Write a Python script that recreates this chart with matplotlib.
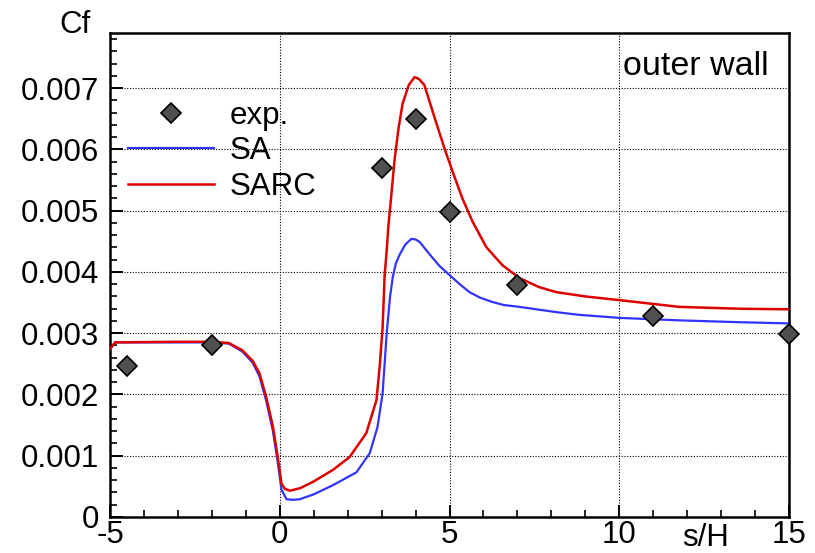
import matplotlib
matplotlib.use("Agg")
import matplotlib.pyplot as plt
from matplotlib.ticker import MultipleLocator, FixedLocator

plt.rcParams['font.family'] = ['Liberation Sans', 'DejaVu Sans']

# experimental data
exp_s = [-4.5, -2.0, 3.0, 4.0, 5.0, 7.0, 11.0, 15.0]
exp_cf = [0.00247, 0.00280, 0.00569, 0.00649, 0.00498, 0.00378, 0.00328, 0.00299]

# SA model
sa_s = [-5.0, -4.85, -3.0, -2.0, -1.5, -1.1, -0.8, -0.6, -0.4, -0.2, -0.06, 0.05, 0.2, 0.4,
        0.59, 1.0, 1.57, 2.26, 2.65, 2.88, 3.03, 3.15, 3.25, 3.33, 3.42, 3.53, 3.7, 3.88, 4.0,
        4.12, 4.41, 4.7, 5.0, 5.3, 5.59, 5.9, 6.26, 6.6, 7.06, 7.56, 8.2, 8.82, 10.0, 11.76, 13.5, 15.0]
sa_cf = [2.74, 2.85, 2.85, 2.85, 2.83, 2.70, 2.52, 2.30, 1.90, 1.40, 0.90, 0.45, 0.29, 0.28,
         0.29, 0.37, 0.52, 0.73, 1.04, 1.47, 2.02, 3.00, 3.60, 3.92, 4.14, 4.28, 4.45, 4.54, 4.53,
         4.49, 4.29, 4.10, 3.95, 3.80, 3.67, 3.58, 3.51, 3.46, 3.43, 3.39, 3.34, 3.30, 3.25, 3.21, 3.18, 3.16]

# SARC model
sarc_s = [-5.0, -4.85, -3.0, -2.0, -1.5, -1.1, -0.8, -0.6, -0.4, -0.2, -0.06, 0.05, 0.15, 0.3,
          0.6, 1.0, 1.57, 2.06, 2.55, 2.85, 2.95, 3.03, 3.09, 3.15, 3.2, 3.26, 3.38, 3.5, 3.62, 3.8,
          3.97, 4.1, 4.26, 4.6, 4.85, 5.09, 5.38, 5.68, 6.09, 6.56, 7.06, 7.65, 8.15, 9.0, 10.0,
          11.76, 13.5, 15.0]
sarc_cf = [2.74, 2.85, 2.86, 2.86, 2.84, 2.72, 2.55, 2.35, 1.96, 1.47, 0.98, 0.55, 0.46, 0.43,
           0.47, 0.58, 0.77, 0.98, 1.37, 1.91, 2.50, 3.10, 3.95, 4.35, 4.75, 5.10, 5.82, 6.35, 6.75, 7.05,
           7.18, 7.15, 7.05, 6.45, 6.02, 5.64, 5.20, 4.82, 4.40, 4.11, 3.90, 3.75, 3.67, 3.60, 3.54,
           3.43, 3.40, 3.39]

sa_cf = [v * 1e-3 for v in sa_cf]
sarc_cf = [v * 1e-3 for v in sarc_cf]

x_major = [-5, 0, 5, 10, 15]
x_labels = ['-5', '0', '5', '10', '15']
y_major = [0, 0.001, 0.002, 0.003, 0.004, 0.005, 0.006, 0.007]
y_labels = ['0', '0.001', '0.002', '0.003', '0.004', '0.005', '0.006', '0.007']

fig = plt.figure(figsize=(8.15, 5.53), dpi=100)
ax = fig.add_axes([110/815, 36/553, 679/815, 484/553])

ax.set_xlim(-5, 15)
ax.set_ylim(0, 0.0079)

ax.plot(exp_s, exp_cf, linestyle='none', marker='D', markersize=10.5, markerfacecolor='#505050',
        markeredgecolor='black', markeredgewidth=1.2, label='exp.', zorder=5, clip_on=False)
ax.plot(sa_s, sa_cf, color='#3333ff', lw=1.6, label='SA', zorder=3)
ax.plot(sarc_s, sarc_cf, color='#dd0000', lw=1.8, label='SARC', zorder=4)

ax.xaxis.set_major_locator(FixedLocator(x_major))
ax.set_xticklabels(x_labels)
ax.xaxis.set_minor_locator(MultipleLocator(1))
ax.yaxis.set_major_locator(FixedLocator(y_major))
ax.set_yticklabels(y_labels)
ax.yaxis.set_minor_locator(MultipleLocator(0.0002))

ax.tick_params(axis='both', which='major', direction='in', length=9, width=1.4,
               labelsize=22.5, top=False, right=False)
ax.tick_params(axis='both', which='minor', direction='in', length=5, width=1.2,
               top=False, right=False)
ax.tick_params(axis='x', which='major', pad=2)
ax.tick_params(axis='y', which='major', pad=8)

for sp in ax.spines.values():
    sp.set_linewidth(1.8)
    sp.set_color('black')

ax.grid(True, which='major', color='black', linestyle=(0, (1, 1.5)), linewidth=0.8)
ax.set_axisbelow(True)

leg = ax.legend(loc='upper left', bbox_to_anchor=(0.026, 0.86), frameon=False,
                fontsize=22.5, handlelength=2.75, handletextpad=0.5, labelspacing=0.18,
                borderpad=0, borderaxespad=0)

fig.text(75/815, 1 - 25/553, 'Cf', fontsize=22.5, ha='center', va='center')
ax.text(12.55, -0.00048, 's/H', fontsize=22.5, ha='center', va='baseline')
ax.text(0.756, 0.930, 'outer wall', transform=ax.transAxes, fontsize=24.5,
        ha='left', va='center')

fig.savefig('out.png', dpi=100)
